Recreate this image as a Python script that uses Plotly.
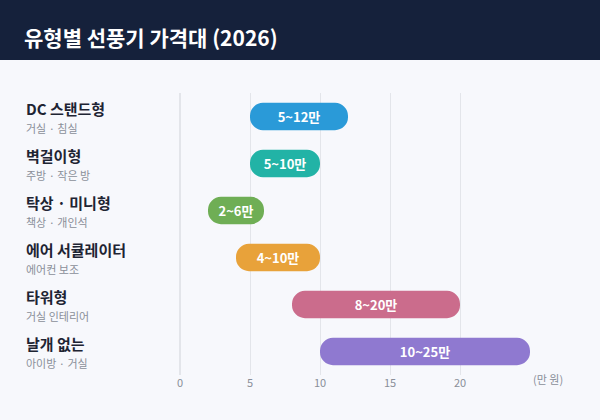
import plotly.graph_objects as go

names = ["DC 스탠드형", "벽걸이형", "탁상 · 미니형", "에어 서큘레이터", "타워형", "날개 없는"]
subs = ["거실 · 침실", "주방 · 작은 방", "책상 · 개인석", "에어컨 보조", "거실 인테리어", "아이방 · 거실"]
low = [5, 5, 2, 4, 8, 10]
high = [12, 10, 6, 10, 20, 25]
colors = ["#2A9AD8", "#22B3A6", "#6FAE55", "#E8A23A", "#CB6C8C", "#8F79D0"]

FONT = "Noto Sans CJK KR"
W, H = 600, 420
ML, MR, MT, MB = 180, 28, 93, 45
pw = W - ML - MR
ph = H - MT - MB

fig = go.Figure()
fig.add_trace(go.Bar(
    y=list(range(len(names))),
    x=[h - l for l, h in zip(low, high)],
    base=low,
    orientation="h",
    width=0.58,
    marker=dict(color=colors, cornerradius="50%", line=dict(width=0)),
    text=[f"<b>{l}~{h}만</b>" for l, h in zip(low, high)],
    textposition="inside",
    insidetextanchor="middle",
    textfont=dict(color="white", size=13, family=FONT),
    hoverinfo="skip",
))

for i, (n, s) in enumerate(zip(names, subs)):
    fig.add_annotation(x=(24 - ML) / pw, xref="paper", y=i, yref="y", yshift=8,
                       text=f"<b>{n}</b>", showarrow=False, xanchor="left",
                       font=dict(size=15, color="#1E2433", family=FONT))
    fig.add_annotation(x=(24 - ML) / pw, xref="paper", y=i, yref="y", yshift=-11,
                       text=s, showarrow=False, xanchor="left",
                       font=dict(size=11, color="#8A8F99", family=FONT))

fig.add_annotation(x=(565 - ML) / pw, xref="paper", y=0, yref="paper", yshift=-14,
                   text="(만 원)", showarrow=False, font=dict(size=11, color="#8A8F99", family=FONT))

# header band
fig.add_shape(type="rect", xref="paper", yref="paper",
              x0=-ML / pw, x1=1 + MR / pw, y0=1 + (MT - 60) / ph, y1=1 + MT / ph + 0.01,
              fillcolor="#15213B", line=dict(width=0), layer="below")
fig.add_annotation(x=(22 - ML) / pw, xref="paper", y=1 + (MT - 37) / ph, yref="paper",
                   text="<b>유형별 선풍기 가격대 (2026)</b>", showarrow=False, xanchor="left", yanchor="middle",
                   font=dict(size=21, color="white", family=FONT))

fig.update_layout(
    width=W, height=H,
    margin=dict(l=ML, r=MR, t=MT, b=MB),
    paper_bgcolor="#F7F8FC", plot_bgcolor="#F7F8FC",
    showlegend=False,
    font=dict(family=FONT),
    xaxis=dict(range=[0, 28], tickvals=[0, 5, 10, 15, 20], showgrid=True,
               gridcolor="#E3E5EA", zeroline=True, zerolinecolor="#E3E5EA",
               tickfont=dict(size=11, color="#8A8F99"), fixedrange=True),
    yaxis=dict(range=[5.5, -0.5], showticklabels=False, showgrid=False, zeroline=False),
)

fig.write_html("out.html", config={"displayModeBar": False},
               post_script="document.body.style.margin='0';")
